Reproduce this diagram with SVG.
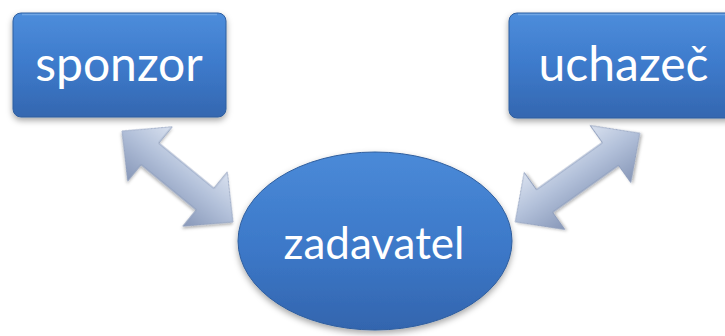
<svg xmlns="http://www.w3.org/2000/svg" width="725" height="336" viewBox="0 0 725 336">
  <defs>
    <linearGradient id="boxFill" x1="0" y1="0" x2="0" y2="1">
      <stop offset="0" stop-color="#4d8ddb"/>
      <stop offset="0.5" stop-color="#3d7acb"/>
      <stop offset="1" stop-color="#3467b0"/>
    </linearGradient>
    <linearGradient id="ovalFill" x1="0" y1="0" x2="0" y2="1">
      <stop offset="0" stop-color="#4a8ad8"/>
      <stop offset="0.55" stop-color="#3c78c8"/>
      <stop offset="1" stop-color="#3365ae"/>
    </linearGradient>
    <linearGradient id="arrowFill" gradientUnits="userSpaceOnUse" x1="0" y1="-35" x2="0" y2="35">
      <stop offset="0" stop-color="#d9e1ef"/>
      <stop offset="0.45" stop-color="#b3c1da"/>
      <stop offset="1" stop-color="#8797b8"/>
    </linearGradient>
    <filter id="shadow" x="-20%" y="-20%" width="140%" height="150%">
      <feDropShadow dx="0" dy="3" stdDeviation="3" flood-color="#000" flood-opacity="0.35"/>
    </filter>
    <filter id="arrowShadow" x="-20%" y="-20%" width="140%" height="150%">
      <feDropShadow dx="1" dy="2" stdDeviation="1.5" flood-color="#000" flood-opacity="0.3"/>
    </filter>
  </defs>
  <style>
    .box { fill: url(#boxFill); stroke: #2f5e9e; stroke-width: 1; filter: url(#shadow); }
    .oval { fill: url(#ovalFill); stroke: #2f5e9e; stroke-width: 1; filter: url(#shadow); }
    .shine { fill: none; stroke: #7fb0ea; stroke-width: 1.5; stroke-opacity: 0.7; }
    .label { font-family: Lato, "Open Sans", sans-serif; fill: #ffffff; text-anchor: middle; }
    .arrow { fill: url(#arrowFill); stroke: #8797b8; stroke-width: 0.8; filter: url(#arrowShadow); }
  </style>

  <!-- connectors: double-headed block arrows -->
  <g id="connectors">
    <g transform="translate(177.5 176.5) rotate(39.35)">
      <polygon class="arrow" points="-71.75,0 -35.75,-35 -35.75,-14 35.75,-14 35.75,-35 71.75,0 35.75,35 35.75,14 -35.75,14 -35.75,35"/>
    </g>
    <g transform="translate(577.5 177.5) rotate(-35.45)">
      <polygon class="arrow" points="-76.5,0 -40.5,-35 -40.5,-14 40.5,-14 40.5,-35 76.5,0 40.5,35 40.5,14 -40.5,14 -40.5,35"/>
    </g>
  </g>

  <g id="sponzor">
    <rect class="box" x="13" y="13" width="213" height="104" rx="8"/>
    <path class="shine" d="M22 14.5 H217"/>
    <text class="label" x="119" y="81" font-size="48">sponzor</text>
  </g>

  <g id="uchazec">
    <rect class="box" x="509" y="13" width="229" height="105" rx="8"/>
    <path class="shine" d="M518 14.5 H730"/>
    <text class="label" x="623.5" y="81" font-size="48">uchazeč</text>
  </g>

  <g id="zadavatel">
    <ellipse class="oval" cx="375" cy="241" rx="137" ry="89"/>
    <text class="label" x="374" y="259" font-size="44">zadavatel</text>
  </g>
</svg>
